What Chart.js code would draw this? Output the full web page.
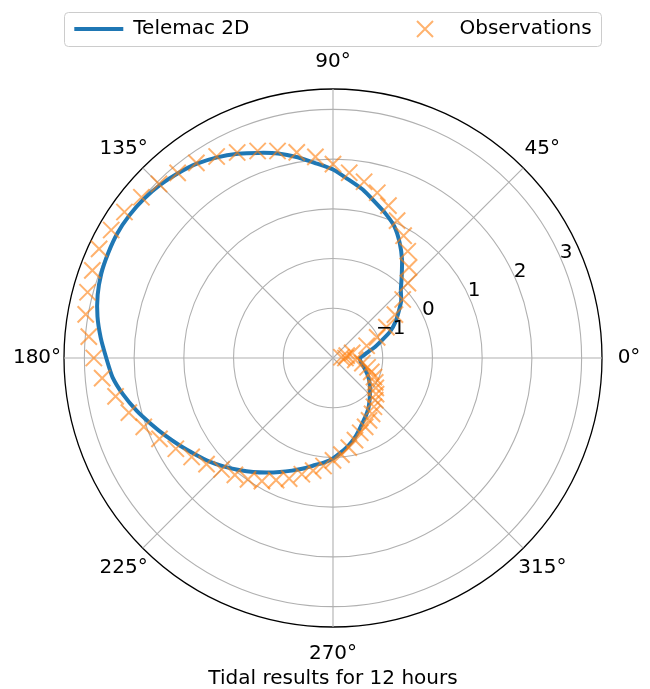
<!DOCTYPE html>
<html>
<head>
<meta charset="utf-8">
<title>Tidal results for 12 hours</title>
<script src="https://cdn.jsdelivr.net/npm/chart.js@4.4.1/dist/chart.umd.min.js"></script>
<style>
  html, body { margin: 0; padding: 0; background: #fff; }
  #wrap { width: 650px; height: 689px; position: relative; }
</style>
</head>
<body>
<div id="wrap"><canvas id="tidalChart"></canvas></div>
<script>
// phase angle in degrees (matplotlib convention: 0 at east, counter-clockwise)
const thetaDeg = [0, 5, 10, 15, 20, 25, 30, 35, 40, 45, 50, 55, 60, 65, 70, 75, 80, 85,
  90, 95, 100, 105, 110, 115, 120, 125, 130, 135, 140, 145, 150, 155, 160, 165, 170, 175,
  180, 185, 190, 195, 200, 205, 210, 215, 220, 225, 230, 235, 240, 245, 250, 255, 260, 265,
  270, 275, 280, 285, 290, 295, 300, 305, 310, 315, 320, 325, 330, 335, 340, 345, 350, 355];

const telemacLevel = [-1.46, -1.38, -1.28, -1.12, -0.95, -0.73, -0.55, -0.39, -0.21, -0.07,
  0.15, 0.42, 0.68, 0.92, 1.09, 1.25, 1.44, 1.60, 1.79, 1.93, 2.10, 2.26, 2.39, 2.53,
  2.66, 2.77, 2.85, 2.92, 2.97, 3.00, 3.01, 2.99, 2.96, 2.90, 2.81, 2.69, 2.56, 2.45,
  2.28, 2.09, 1.89, 1.71, 1.54, 1.38, 1.24, 1.09, 0.94, 0.80, 0.66, 0.53, 0.41, 0.30,
  0.19, 0.11, 0.02, -0.10, -0.21, -0.33, -0.46, -0.58, -0.67, -0.76, -0.86, -0.95, -1.03,
  -1.10, -1.17, -1.24, -1.31, -1.37, -1.42, -1.45];

const obsLevel = [-1.75, -1.83, -1.72, -1.60, -1.28, -1.02, -0.76, -0.48, -0.17, 0.13,
  0.38, 0.62, 0.84, 1.05, 1.26, 1.44, 1.60, 1.74, 1.90, 2.06, 2.20, 2.31, 2.43, 2.56,
  2.68, 2.79, 2.86, 2.95, 3.03, 3.12, 3.15, 3.19, 3.15, 3.11, 3.05, 2.93, 2.81, 2.66,
  2.44, 2.25, 2.05, 1.85, 1.65, 1.47, 1.32, 1.17, 1.07, 0.98, 0.86, 0.71, 0.58, 0.42,
  0.30, 0.18, 0.06, -0.05, -0.17, -0.29, -0.40, -0.47, -0.55, -0.63, -0.72, -0.80, -0.87,
  -0.95, -1.02, -1.09, -1.18, -1.28, -1.40, -1.55];

const angleTicks = [0, 45, 90, 135, 180, 225, 270, 315];
const radialTicks = [-1, 0, 1, 2, 3];
const rMin = -2;
const rMax = 3.41;

const FONT = 'DejaVu Sans';
const BLUE = '#1f77b4';
const ORANGE = 'rgba(255,127,14,0.6)';

Chart.defaults.font.family = FONT;
Chart.defaults.font.size = 20;
Chart.defaults.color = '#000';

// radar runs clockwise, matplotlib runs counter-clockwise -> reverse after index 0
const order = thetaDeg.map((t, i) => (thetaDeg.length - i) % thetaDeg.length);
const slotAngles = order.map(k => thetaDeg[k]);
const telemacSlots = order.map(k => telemacLevel[k]);
const obsSlots = order.map(k => obsLevel[k]);

// small 'x' icon for the legend
const xIcon = document.createElement('canvas');
xIcon.width = 18;
xIcon.height = 18;
(function () {
  const c = xIcon.getContext('2d');
  c.strokeStyle = ORANGE;
  c.lineWidth = 2;
  c.beginPath();
  c.moveTo(1, 1); c.lineTo(17, 17);
  c.moveTo(17, 1); c.lineTo(1, 17);
  c.stroke();
})();

function legendItems(chart) {
  const ds = chart.data.datasets;
  const spacer = { text: '', fillStyle: 'rgba(0,0,0,0)', strokeStyle: 'rgba(0,0,0,0)',
    lineWidth: 0, pointStyle: 'line', hidden: false, fontColor: '#000' };
  return [
    { text: ds[0].label, fillStyle: BLUE, strokeStyle: BLUE, lineWidth: 4,
      pointStyle: 'line', hidden: false, datasetIndex: 0, fontColor: '#000' },
    spacer,
    Object.assign({}, spacer),
    { text: ds[1].label, fillStyle: ORANGE, strokeStyle: ORANGE, lineWidth: 2,
      pointStyle: xIcon, hidden: false, datasetIndex: 1, fontColor: '#000' }
  ];
}

const polarDecor = {
  id: 'polarDecor',
  beforeDraw(chart) {
    // matplotlib style legend frame, as wide as the polar axes
    const r = chart.scales.r;
    const hb = chart.legend.legendHitBoxes;
    if (!hb || !hb.length) return;
    const ctx = chart.ctx;
    const left = r.xCenter - r.drawingArea + 0.5;
    const right = r.xCenter + r.drawingArea - 0.5;
    const top = hb[0].top - 7 + 0.5;
    const bottom = hb[0].top + hb[0].height + 8 - 0.5;
    ctx.save();
    ctx.beginPath();
    if (ctx.roundRect) ctx.roundRect(left, top, right - left, bottom - top, 4);
    else ctx.rect(left, top, right - left, bottom - top);
    ctx.fillStyle = 'rgba(255,255,255,0.8)';
    ctx.fill();
    ctx.strokeStyle = '#cccccc';
    ctx.lineWidth = 1;
    ctx.stroke();
    ctx.restore();
  },
  afterDraw(chart) {
    const r = chart.scales.r;
    const ctx = chart.ctx;
    ctx.save();
    ctx.font = '20px "' + FONT + '"';
    ctx.fillStyle = '#000';
    // angle labels outside the outer circle
    ctx.textAlign = 'center';
    ctx.textBaseline = 'middle';
    angleTicks.forEach(a => {
      const p = r.getPointPosition(slotAngles.indexOf(a), r.drawingArea + 27);
      ctx.fillText(a + '\u00b0', p.x, p.y);
    });
    // radial tick labels along 22.5 degrees
    const rad = 22.5 * Math.PI / 180;
    ctx.textAlign = 'left';
    radialTicks.forEach(v => {
      const d = r.getDistanceFromCenterForValue(v);
      const x = r.xCenter + d * Math.cos(rad) - 3;
      const y = r.yCenter - d * Math.sin(rad) - 10;
      ctx.fillText(String(v).replace('-', '\u2212'), x, y);
    });
    ctx.restore();
  }
};

new Chart(document.getElementById('tidalChart'), {
  type: 'radar',
  data: {
    labels: slotAngles,
    datasets: [
      {
        label: 'Telemac 2D',
        data: telemacSlots,
        borderColor: BLUE,
        backgroundColor: 'rgba(0,0,0,0)',
        borderWidth: 4,
        tension: 0.2,
        pointRadius: 0,
        fill: false,
        order: 1
      },
      {
        label: 'Observations',
        data: obsSlots,
        showLine: false,
        borderWidth: 0,
        borderColor: 'rgba(0,0,0,0)',
        backgroundColor: 'rgba(0,0,0,0)',
        pointStyle: 'crossRot',
        pointRadius: 11.5,
        pointBorderWidth: 2,
        pointBorderColor: ORANGE,
        pointBackgroundColor: 'rgba(0,0,0,0)',
        fill: false,
        order: 0
      }
    ]
  },
  options: {
    responsive: true,
    maintainAspectRatio: false,
    animation: false,
    events: [],
    layout: { padding: { top: 8, left: 16, right: 0, bottom: 0 } },
    scales: {
      r: {
        min: rMin,
        max: rMax,
        startAngle: 90,
        afterBuildTicks: (scale) => {
          scale.ticks = [rMin].concat(radialTicks, [rMax]).map(v => ({ value: v }));
        },
        ticks: { display: false },
        pointLabels: { display: false },
        grid: {
          circular: true,
          color: (c) => c.tick.value === rMax ? '#000' : (c.tick.value === rMin ? 'rgba(0,0,0,0)' : '#b0b0b0'),
          lineWidth: (c) => c.tick.value === rMax ? 1.3 : 1.1
        },
        angleLines: {
          color: '#b0b0b0',
          lineWidth: (c) => angleTicks.includes(slotAngles[c.index]) ? 1.1 : 0
        }
      }
    },
    plugins: {
      legend: {
        position: 'top',
        labels: {
          usePointStyle: true,
          pointStyleWidth: 49,
          padding: 11,
          color: '#000',
          font: { size: 20 },
          generateLabels: legendItems
        }
      },
      subtitle: {
        display: true,
        text: '',
        position: 'top',
        weight: 500,
        font: { size: 10, lineHeight: 1 },
        padding: { top: 30, bottom: 0 }
      },
      title: {
        display: true,
        text: 'Tidal results for 12 hours',
        position: 'bottom',
        color: '#000',
        font: { size: 20, weight: 'normal', lineHeight: 1 },
        padding: { top: 42, bottom: 0 }
      },
      tooltip: { enabled: false }
    }
  },
  plugins: [polarDecor]
});
</script>
</body>
</html>
